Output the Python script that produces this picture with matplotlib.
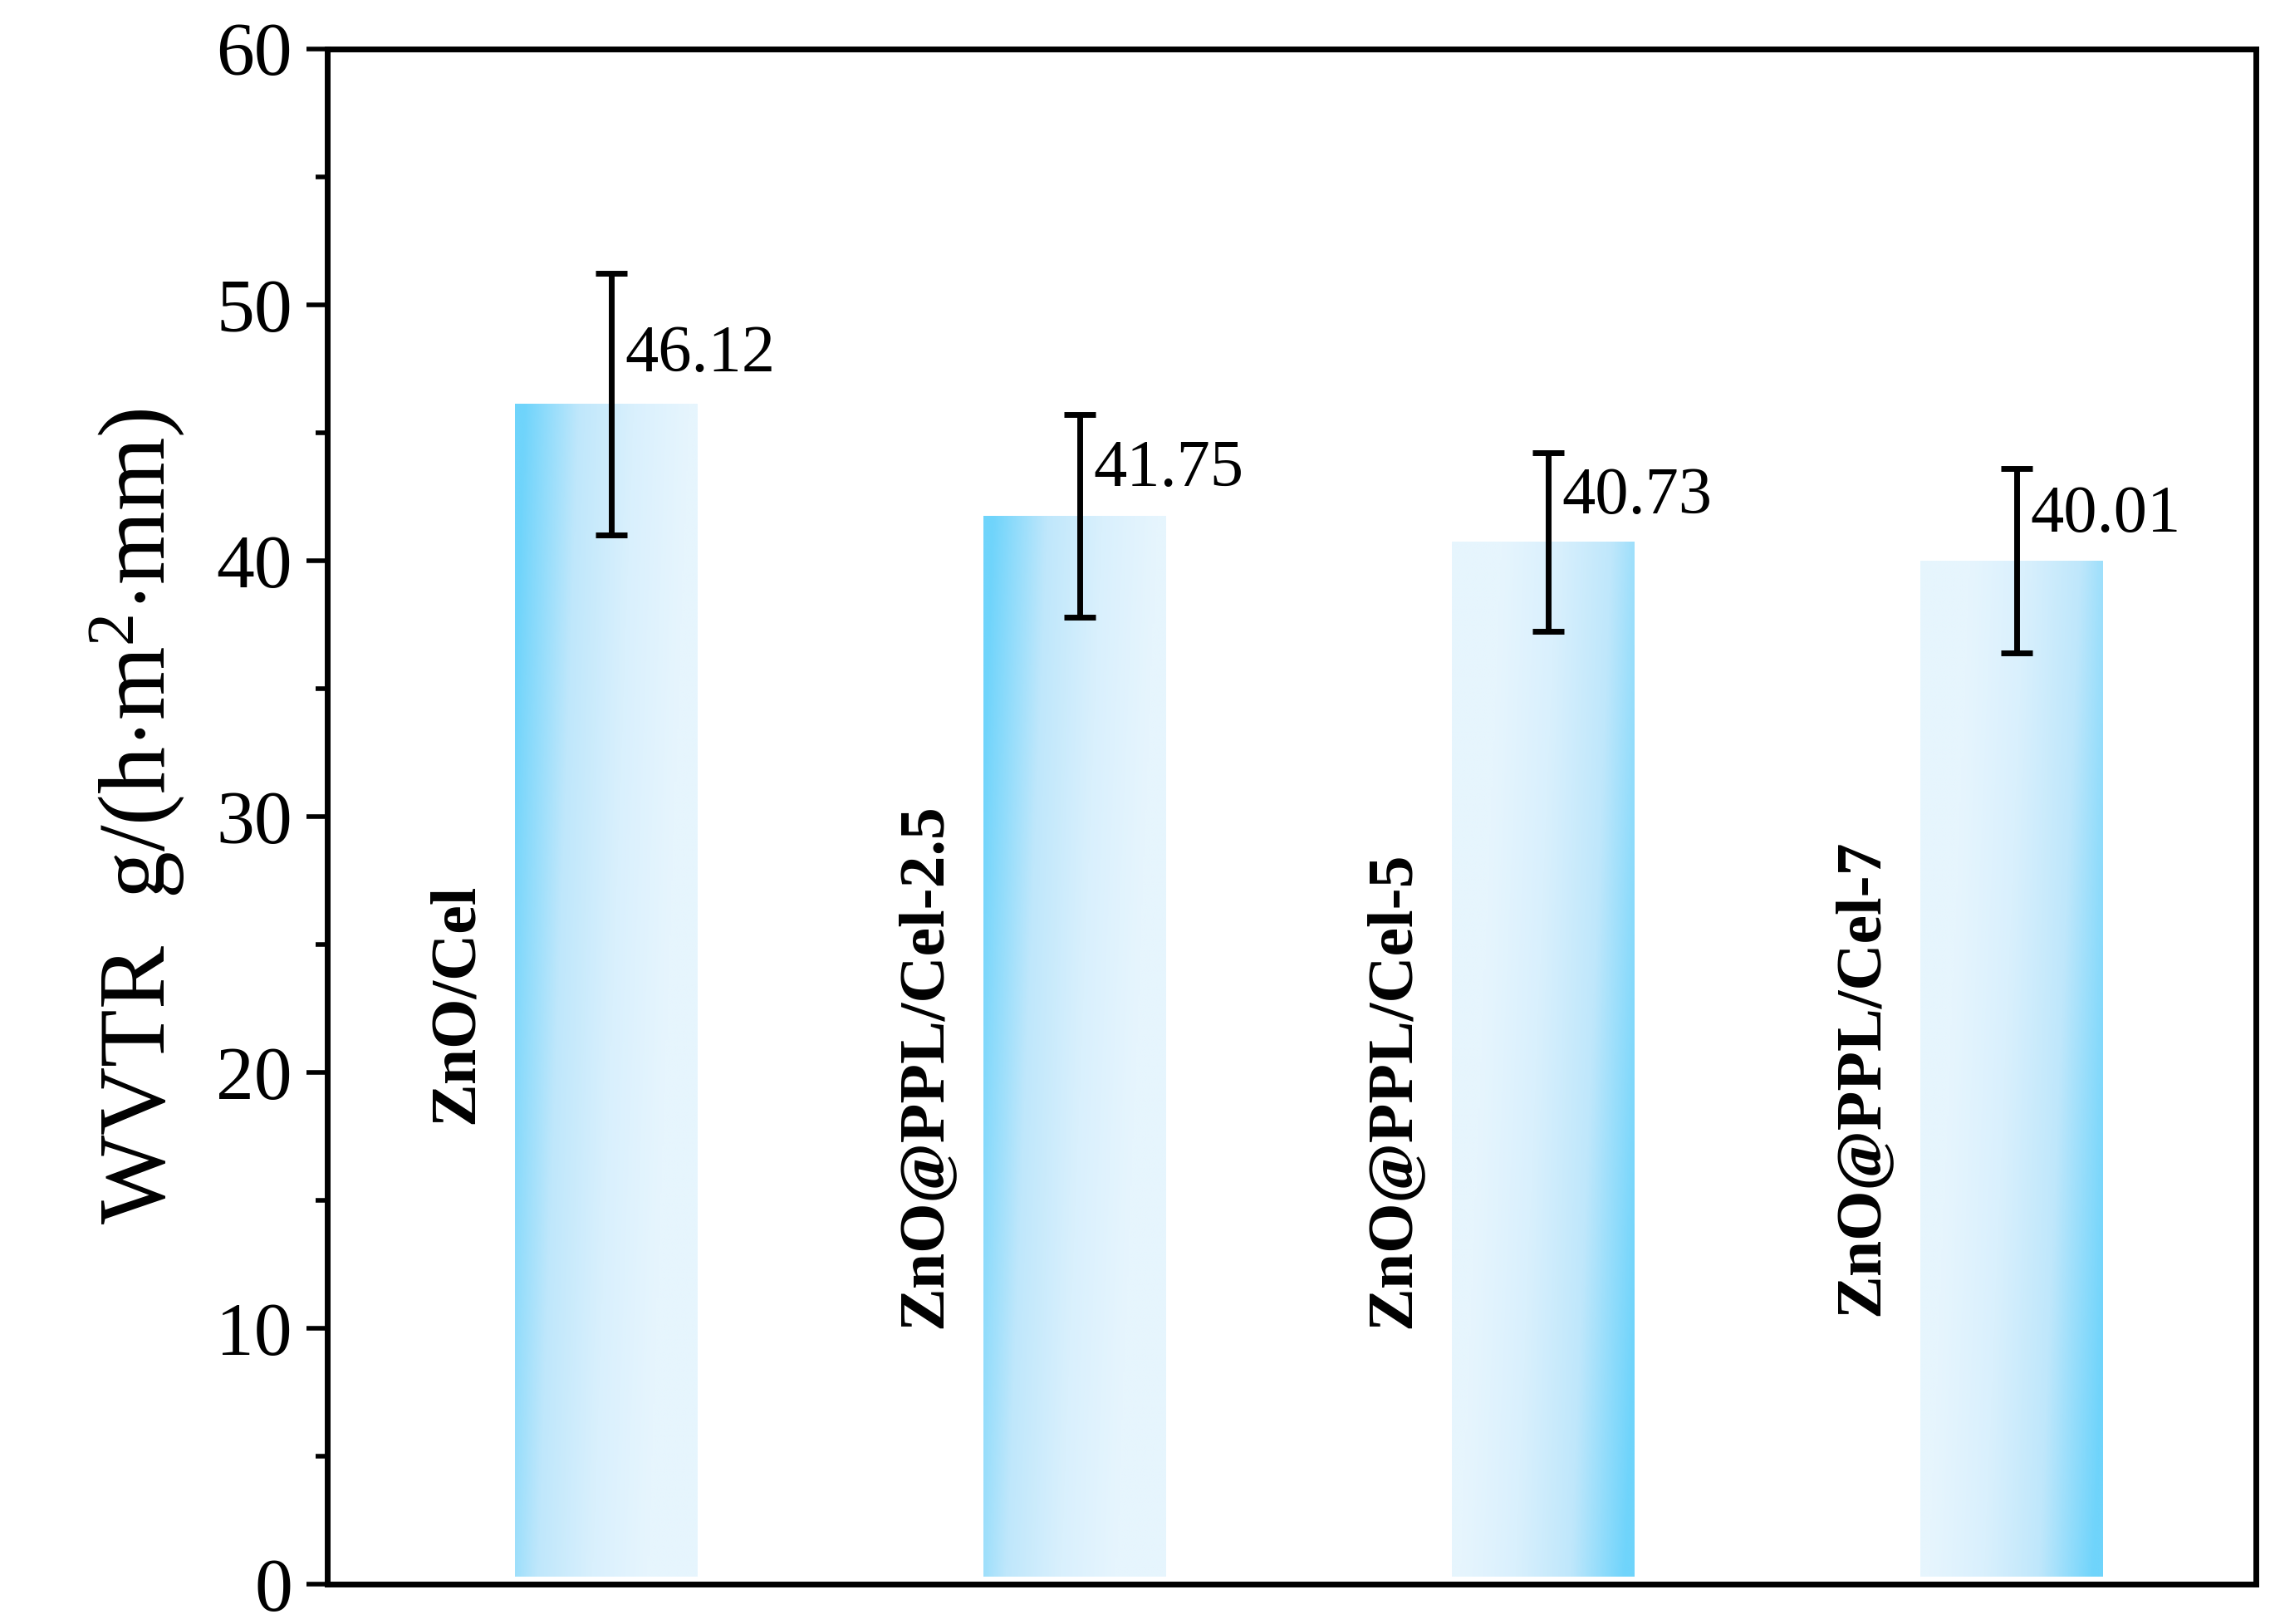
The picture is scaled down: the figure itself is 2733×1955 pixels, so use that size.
import numpy as np
import matplotlib
matplotlib.use("Agg")
import matplotlib.pyplot as plt
from matplotlib.colors import LinearSegmentedColormap
from matplotlib.ticker import MultipleLocator

categories = ["ZnO/Cel", "ZnO@PPL/Cel-2.5", "ZnO@PPL/Cel-5", "ZnO@PPL/Cel-7"]
values = [46.12, 41.75, 40.73, 40.01]
errors = [5.1, 3.95, 3.5, 3.6]
label_y = [18.0, 10.0, 10.0, 10.5]

plt.rcParams['font.family'] = ['Liberation Serif']
plt.rcParams['mathtext.fontset'] = 'custom'
plt.rcParams['mathtext.rm'] = 'Liberation Serif'
plt.rcParams['mathtext.it'] = 'Liberation Serif:italic'

fig = plt.figure(figsize=(27.33, 19.55), dpi=100)
ax = fig.add_axes([0.144, 0.0243, 0.8496, 0.9457])
x = np.arange(len(values))
w = 0.39
cmap = LinearSegmentedColormap.from_list("g", ["#6fd4fb", "#bfe7fb", "#d9f0fd", "#e6f5fd"])
ny, nx = 200, 100
yy, xx = np.mgrid[0:1:ny*1j, 0:1:nx*1j]
for i, v in enumerate(values):
    bars = ax.bar(x[i], v, w, color='none', edgecolor='none')
    if i < 2:
        g = np.clip(xx * 1.1 + (1 - yy) * 0.25 - 0.05, 0, 1)
    else:
        g = np.clip((1 - xx) * 1.1 + yy * 0.25 - 0.05, 0, 1)
    im = ax.imshow(g, extent=[x[i]-w/2, x[i]+w/2, 0.3, v], origin='lower',
                   cmap=cmap, aspect='auto', zorder=1)
    im.set_clip_path(bars[0])
ax.errorbar(x + 0.01, values, yerr=errors, fmt='none', ecolor='black',
            elinewidth=5, capsize=14, capthick=5, zorder=3)
for i, v in enumerate(values):
    ax.text(x[i] + 0.04, v + errors[i]*0.1 + 1.4, f"{v:.2f}", fontsize=58, va='center', ha='left', zorder=4)
    ax.text(x[i] - 0.32, label_y[i], categories[i], rotation=90, fontsize=56,
            fontweight='bold', ha='center', va='bottom', zorder=4)

ax.set_xlim(-0.597, 3.52)
ax.set_ylim(0, 60)
ax.set_xticks([])
ax.yaxis.set_major_locator(MultipleLocator(10))
ax.yaxis.set_minor_locator(MultipleLocator(5))
ax.tick_params(axis='y', which='major', direction='out', length=18, width=4, labelsize=66, pad=12)
ax.tick_params(axis='y', which='minor', direction='out', length=10, width=4)
for s in ax.spines.values():
    s.set_linewidth(5)
ax.set_ylabel(r"WVTR  g/(h$\cdot$m$^2$$\cdot$mm)", fontsize=82, labelpad=25)
fig.savefig("out.png", dpi=100)
